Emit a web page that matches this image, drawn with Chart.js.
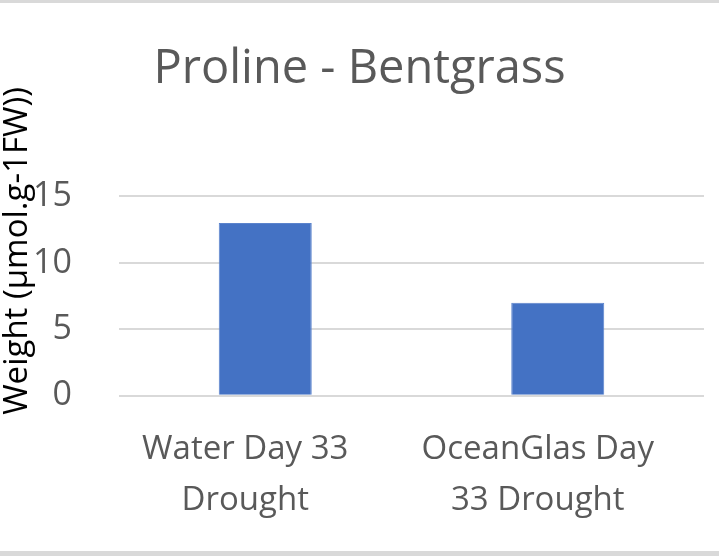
<!DOCTYPE html>
<html lang="en">
<head>
    <meta charset="UTF-8">
    <title>Proline - Bentgrass</title>
    <script src="https://cdn.jsdelivr.net/npm/chart.js"></script>
    <style>
        body { margin: 0; background: #fff; }
        #wrap { width: 719px; height: 548px; border-top: 3px solid #d9d9d9; border-bottom: 5px solid #d9d9d9; }
    </style>
</head>
<body>
    <div id="wrap"><canvas id="chart" width="719" height="548"></canvas></div>

    <script>
        // chart data
        const categories = [['Water Day 33', 'Drought'], ['OceanGlas Day', '33 Drought']];
        const prolineValues = [13, 7];
        const yTicks = [0, 5, 10, 15];
        const yTitle = 'Weight (µmol.g-1FW))';

        // y axis title sits higher than the plot centre, so draw it here
        const yTitlePlugin = {
            id: 'yTitle',
            afterDraw(chart) {
                const c = chart.ctx;
                c.save();
                c.translate(18, 248);
                c.rotate(-Math.PI / 2);
                c.font = '33px "Open Sans"';
                c.fillStyle = '#000';
                c.textAlign = 'center';
                c.textBaseline = 'middle';
                c.fillText(yTitle, 0, 0);
                c.restore();
            }
        };

        const ctx = document.getElementById('chart').getContext('2d');
        new Chart(ctx, {
            type: 'bar',
            data: {
                labels: categories,
                datasets: [{
                    label: 'Proline',
                    data: prolineValues,
                    backgroundColor: '#4472c4',
                    borderColor: '#5b83cc',
                    borderWidth: 1,
                    barPercentage: 0.318,
                    categoryPercentage: 1
                }]
            },
            plugins: [yTitlePlugin],
            options: {
                responsive: false,
                animation: false,
                layout: { padding: { left: 15, right: 15, top: 0, bottom: 5 } },
                plugins: {
                    legend: { display: false },
                    tooltip: { enabled: false },
                    title: {
                        display: true,
                        text: 'Proline - Bentgrass',
                        color: '#595959',
                        font: { family: 'Open Sans', size: 47, weight: 'normal' },
                        padding: { top: 38, bottom: 99 }
                    }
                },
                scales: {
                    x: {
                        grid: { display: false },
                        border: { display: false },
                        ticks: {
                            color: '#595959',
                            font: { family: 'Open Sans', size: 33, lineHeight: 1.55 },
                            padding: 20,
                            labelOffset: -20,
                            maxRotation: 0,
                            autoSkip: false
                        }
                    },
                    y: {
                        min: 0,
                        max: 15,
                        afterBuildTicks: axis => { axis.ticks = yTicks.map(v => ({ value: v })); },
                        afterFit: axis => { axis.width = 104; },
                        grid: { color: '#d9d9d9', lineWidth: 2, drawTicks: false },
                        border: { display: false },
                        ticks: {
                            color: '#595959',
                            font: { family: 'Open Sans', size: 34 },
                            padding: 47
                        }
                    }
                }
            }
        });
    </script>
</body>
</html>
